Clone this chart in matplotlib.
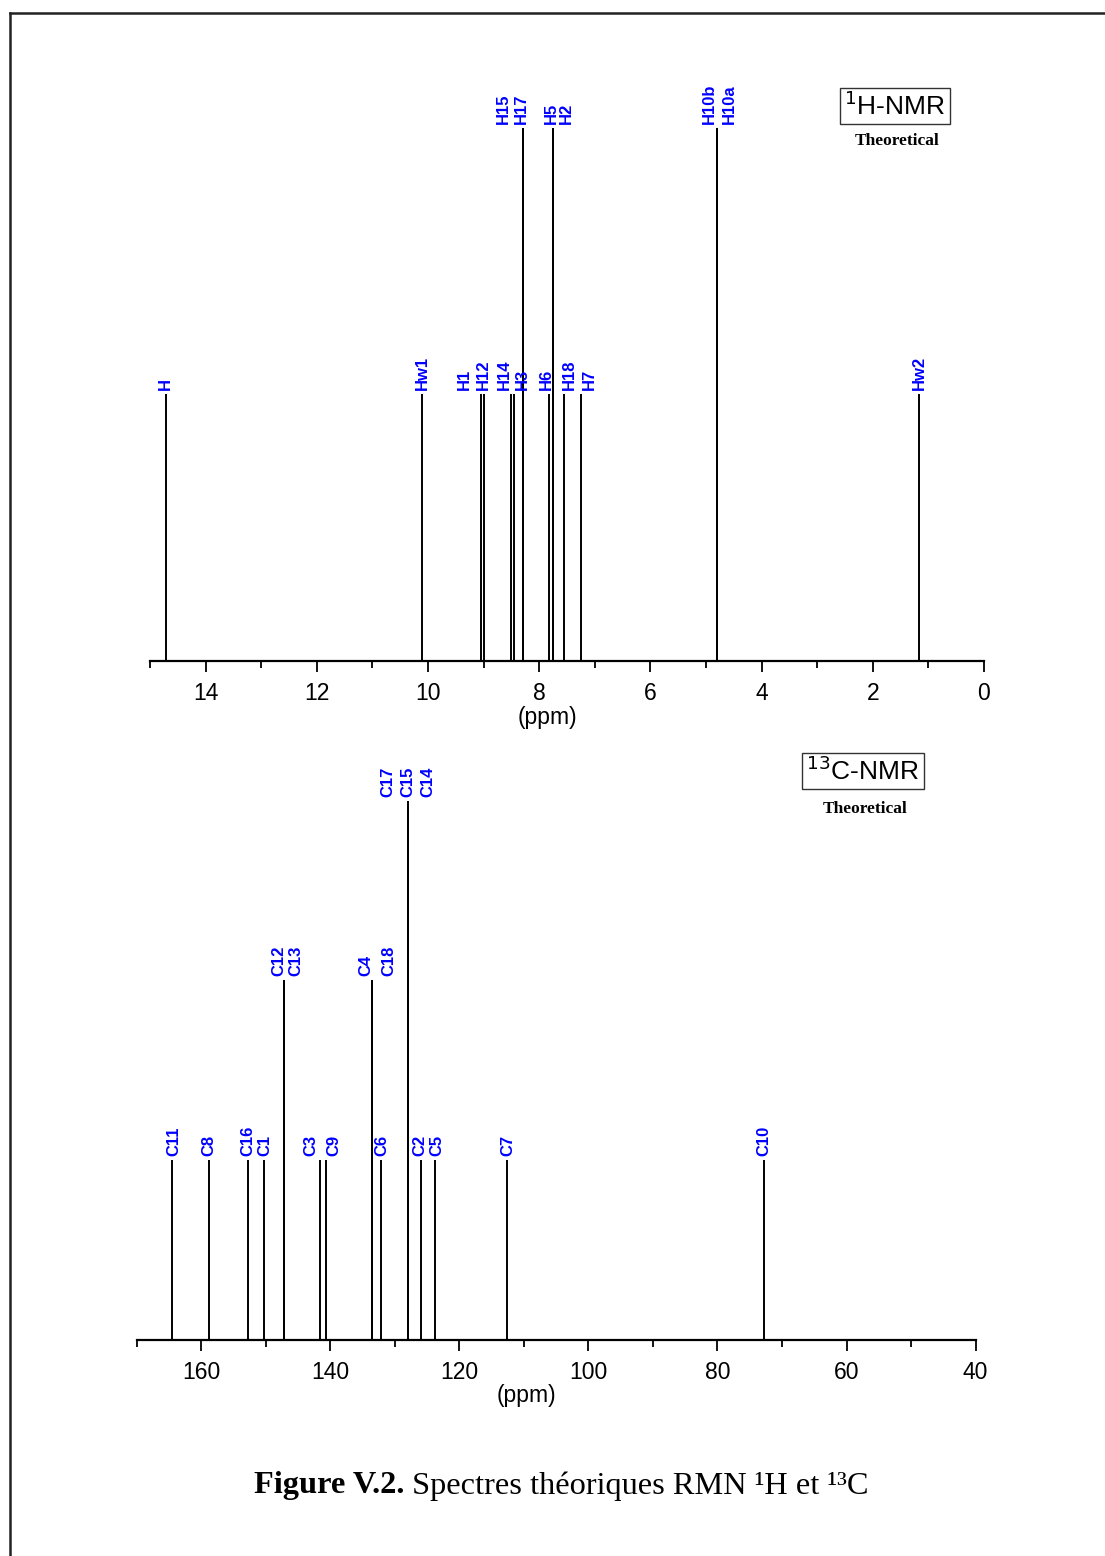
import matplotlib
matplotlib.use("Agg")
import matplotlib.pyplot as plt
from matplotlib.ticker import MultipleLocator
from matplotlib.lines import Line2D

# ---------------- data ----------------
h_labels = ["H", "Hw1", "H1", "H12", "H14", "H3", "H15", "H17", "H6", "H5", "H2", "H18", "H7", "H10b", "H10a", "Hw2"]
h_ppm    = [14.72, 10.10, 9.05, 8.99, 8.51, 8.46, 8.30, 8.30, 7.83, 7.75, 7.75, 7.56, 7.25, 4.81, 4.81, 1.17]
h_height = [1, 1, 1, 1, 1, 1, 2, 2, 1, 2, 2, 1, 1, 2, 2, 1]
h_label_dx = [0, 0, -16, -1, -6, 9, -19, -1, -2, -2, 13, 6, 8, -7, 13, 0]   # label offsets (px)

c_labels = ["C11", "C8", "C16", "C1", "C12", "C13", "C3", "C9", "C4", "C18", "C6",
            "C17", "C15", "C14", "C2", "C5", "C7", "C10"]
c_ppm    = [164.5, 158.8, 152.8, 150.2, 147.2, 147.2, 141.6, 140.7, 133.5, 133.5, 132.2,
            127.9, 127.9, 127.9, 125.9, 123.8, 112.6, 72.8]
c_height = [1, 1, 1, 1, 2, 2, 1, 1, 2, 2, 1, 3, 3, 3, 1, 1, 1, 1]
c_label_dx = [2, 0, 0, 0, -5, 12, -9, 8, -6, 17, 1, -20, 0, 20, -1, 2, 1, 0]

h_ticks = [14, 12, 10, 8, 6, 4, 2, 0]
c_ticks = [160, 140, 120, 100, 80, 60, 40]

W, H = 1105, 1556
fig = plt.figure(figsize=(W / 100, H / 100), dpi=100)
fig.patch.set_facecolor("white")

sans = ["Liberation Sans", "DejaVu Sans"]
serif = ["Liberation Serif", "DejaVu Serif"]


def fx(px):
    return px / W


def fy(py):
    return 1 - py / H


def style_axis(ax, major, minor, ticks, label_xy):
    for s in ["top", "left", "right"]:
        ax.spines[s].set_visible(False)
    ax.spines["bottom"].set_linewidth(1.6)
    ax.set_yticks([])
    ax.xaxis.set_major_locator(MultipleLocator(major))
    ax.xaxis.set_minor_locator(MultipleLocator(minor))
    ax.set_xticks(ticks)
    ax.set_xticklabels([str(t) for t in ticks], fontfamily=sans, fontsize=16.5)
    ax.tick_params(axis="x", which="major", direction="out", length=8, width=1.3, pad=7)
    ax.tick_params(axis="x", which="minor", direction="out", length=5, width=1.3)
    ax.set_xlabel("(ppm)", fontfamily=sans, fontsize=16.5)
    ax.xaxis.set_label_coords(*label_xy)
    ax.patch.set_alpha(0)


def draw_peaks(ax, ppm, height, labels, dx):
    ax.vlines(ppm, 0, height, colors="black", linewidth=1.4)
    for x, h, lab, d in zip(ppm, height, labels, dx):
        ax.annotate(lab, xy=(x, h), xytext=(d, 4), textcoords="offset pixels",
                    rotation=90, ha="center", va="bottom", color="#0000ff",
                    fontweight="bold", fontsize=12, fontfamily=sans)


# ---- top: 1H ----
ax1 = fig.add_axes([fx(150), fy(661), fx(984 - 150), (661 - 50) / H])
draw_peaks(ax1, h_ppm, h_height, h_labels, h_label_dx)
ax1.set_xlim(15, 0)
ax1.set_ylim(0, (661 - 50) / 266.5)
style_axis(ax1, 2, 1, h_ticks, (0.477, -0.074))

# ---- bottom: 13C ----
ax2 = fig.add_axes([fx(136.7), fy(1340), fx(975.6 - 136.7), (1340 - 740) / H])
draw_peaks(ax2, c_ppm, c_height, c_labels, c_label_dx)
ax2.set_xlim(170, 40)
ax2.set_ylim(0, (1340 - 740) / 179.8)
style_axis(ax2, 20, 10, c_ticks, (0.465, -0.073))

# ---- boxed titles ----
fig.text(fx(895), fy(106), r"$^{1}$H-NMR", ha="center", va="center", fontsize=19,
         fontfamily=sans, bbox=dict(boxstyle="square,pad=0.15", facecolor="white",
                                    edgecolor="#333333", linewidth=1.0))
fig.text(fx(897), fy(141), "Theoretical", ha="center", va="center", fontsize=12.5,
         fontweight="bold", fontfamily=serif)
fig.text(fx(863), fy(771), r"$^{13}$C-NMR", ha="center", va="center", fontsize=19,
         fontfamily=sans, bbox=dict(boxstyle="square,pad=0.15", facecolor="white",
                                    edgecolor="#333333", linewidth=1.0))
fig.text(fx(865), fy(809), "Theoretical", ha="center", va="center", fontsize=12.5,
         fontweight="bold", fontfamily=serif)

# ---- caption (bold part + regular part placed side by side) ----
renderer = fig.canvas.get_renderer()
cap_bold = fig.text(0, fy(1486), "Figure V.2.", ha="left", va="center", fontsize=23.3,
                    fontweight="bold", fontfamily=serif)
cap_rest = fig.text(0, fy(1486), " Spectres théoriques RMN \u00b9H et \u00b9\u00b3C", ha="left",
                    va="center", fontsize=23.3, fontfamily=serif)
wb = cap_bold.get_window_extent(renderer).width
wr = cap_rest.get_window_extent(renderer).width
x0 = 561 - (wb + wr) / 2
cap_bold.set_x(fx(x0))
cap_rest.set_x(fx(x0 + wb))

# ---- page frame ----
fig.add_artist(Line2D([fx(10), 1.0], [fy(13), fy(13)], color="#222222", linewidth=1.8,
                      transform=fig.transFigure))
fig.add_artist(Line2D([fx(10), fx(10)], [fy(13), 0.0], color="#222222", linewidth=1.8,
                      transform=fig.transFigure))

fig.savefig("out.png", dpi=100, facecolor="white")
